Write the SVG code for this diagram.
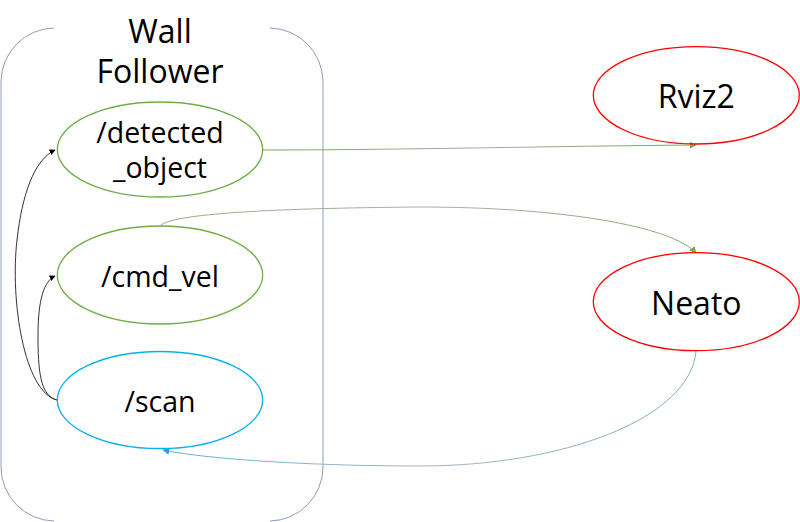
<svg xmlns="http://www.w3.org/2000/svg" width="800" height="522" viewBox="0 0 800 522">
<style>
.t{font-family:"Open Sans","Noto Sans",sans-serif;fill:#000;text-anchor:middle}
.topic{font-size:28.5px}
.node{font-size:32px}
.title{font-size:32px}
.cont{fill:none;stroke:#8e9cb8;stroke-width:1}
.conn{fill:none;stroke-width:1}
</style>
<defs>
<marker id="ag" viewBox="0 0 10 10" refX="9" refY="5" markerWidth="7" markerHeight="7" orient="auto" markerUnits="userSpaceOnUse"><path d="M0,0 L10,5 L0,10 z" fill="#70ad47"/></marker>
<marker id="ab" viewBox="0 0 10 10" refX="9" refY="5" markerWidth="7" markerHeight="7" orient="auto" markerUnits="userSpaceOnUse"><path d="M0,0 L10,5 L0,10 z" fill="#1fa8e0"/></marker>
<marker id="ak" viewBox="0 0 10 10" refX="9" refY="5" markerWidth="6" markerHeight="6" orient="auto" markerUnits="userSpaceOnUse"><path d="M0,0 L10,5 L0,10 z" fill="#000"/></marker>
<linearGradient id="g1" gradientUnits="userSpaceOnUse" x1="263" y1="0" x2="696" y2="0"><stop offset="0" stop-color="#70ad47"/><stop offset="0.5" stop-color="#a8a8a8"/><stop offset="1" stop-color="#70ad47"/></linearGradient>
<linearGradient id="g2" gradientUnits="userSpaceOnUse" x1="160" y1="0" x2="696" y2="0"><stop offset="0" stop-color="#8fb080"/><stop offset="0.5" stop-color="#aab0a6"/><stop offset="1" stop-color="#80a86a"/></linearGradient>
<linearGradient id="g3" gradientUnits="userSpaceOnUse" x1="163" y1="0" x2="696" y2="0"><stop offset="0" stop-color="#5fb0d8"/><stop offset="0.5" stop-color="#a6b4be"/><stop offset="1" stop-color="#7aaed0"/></linearGradient>
</defs>
<g id="wall_follower">
<path class="cont" d="M54,28 A54,54 0 0 0 1,82 L1,467 A54,54 0 0 0 54,521"/>
<path class="cont" d="M270,28 A54,54 0 0 1 323,82 L323,467 A54,54 0 0 1 270,521"/>
<text class="t title" x="160" y="43">Wall</text>
<text class="t title" x="160" y="83">Follower</text>
</g>
<g id="connectors">
<path class="conn" stroke="url(#g1)" d="M263,150 C400,150 560,146 696,145" marker-end="url(#ag)"/>
<path class="conn" stroke="url(#g2)" d="M160,226 C172,212 300,208 420,207 C560,207 672,226 696,253" marker-end="url(#ag)"/>
<path class="conn" stroke="url(#g3)" d="M696,351 C690,420 560,466 420,466 C300,466 200,458 163,450" marker-end="url(#ab)"/>
<path class="conn" stroke="#333" d="M57,400 C40,396 38,370 38,335 C38,300 44,281 55,276" marker-end="url(#ak)"/>
<path class="conn" stroke="#333" d="M57,400 C24,392 10,300 17,240 C22,195 34,160 55,150" marker-end="url(#ak)"/>
</g>
<g id="detected_object">
<ellipse cx="160" cy="149.5" rx="102.7" ry="47.5" fill="none" stroke="#70ad47" stroke-width="1.3"/>
<text class="t topic" x="160" y="143">/detected</text>
<text class="t topic" x="160" y="178">_object</text>
</g>
<g id="cmd_vel">
<ellipse cx="160" cy="275" rx="102.7" ry="49" fill="none" stroke="#70ad47" stroke-width="1.3"/>
<text class="t topic" x="160" y="287">/cmd_vel</text>
</g>
<g id="scan">
<ellipse cx="160" cy="400" rx="102.7" ry="48.5" fill="none" stroke="#00b0f0" stroke-width="1.3"/>
<text class="t topic" x="160" y="412">/scan</text>
</g>
<g id="rviz2">
<ellipse cx="696.3" cy="95.3" rx="103" ry="48.7" fill="none" stroke="#ff0000" stroke-width="1.3"/>
<text class="t node" x="696.3" y="108">Rviz2</text>
</g>
<g id="neato">
<ellipse cx="696.3" cy="301.7" rx="103" ry="49" fill="none" stroke="#ff0000" stroke-width="1.3"/>
<text class="t node" x="696.3" y="315">Neato</text>
</g>
</svg>
